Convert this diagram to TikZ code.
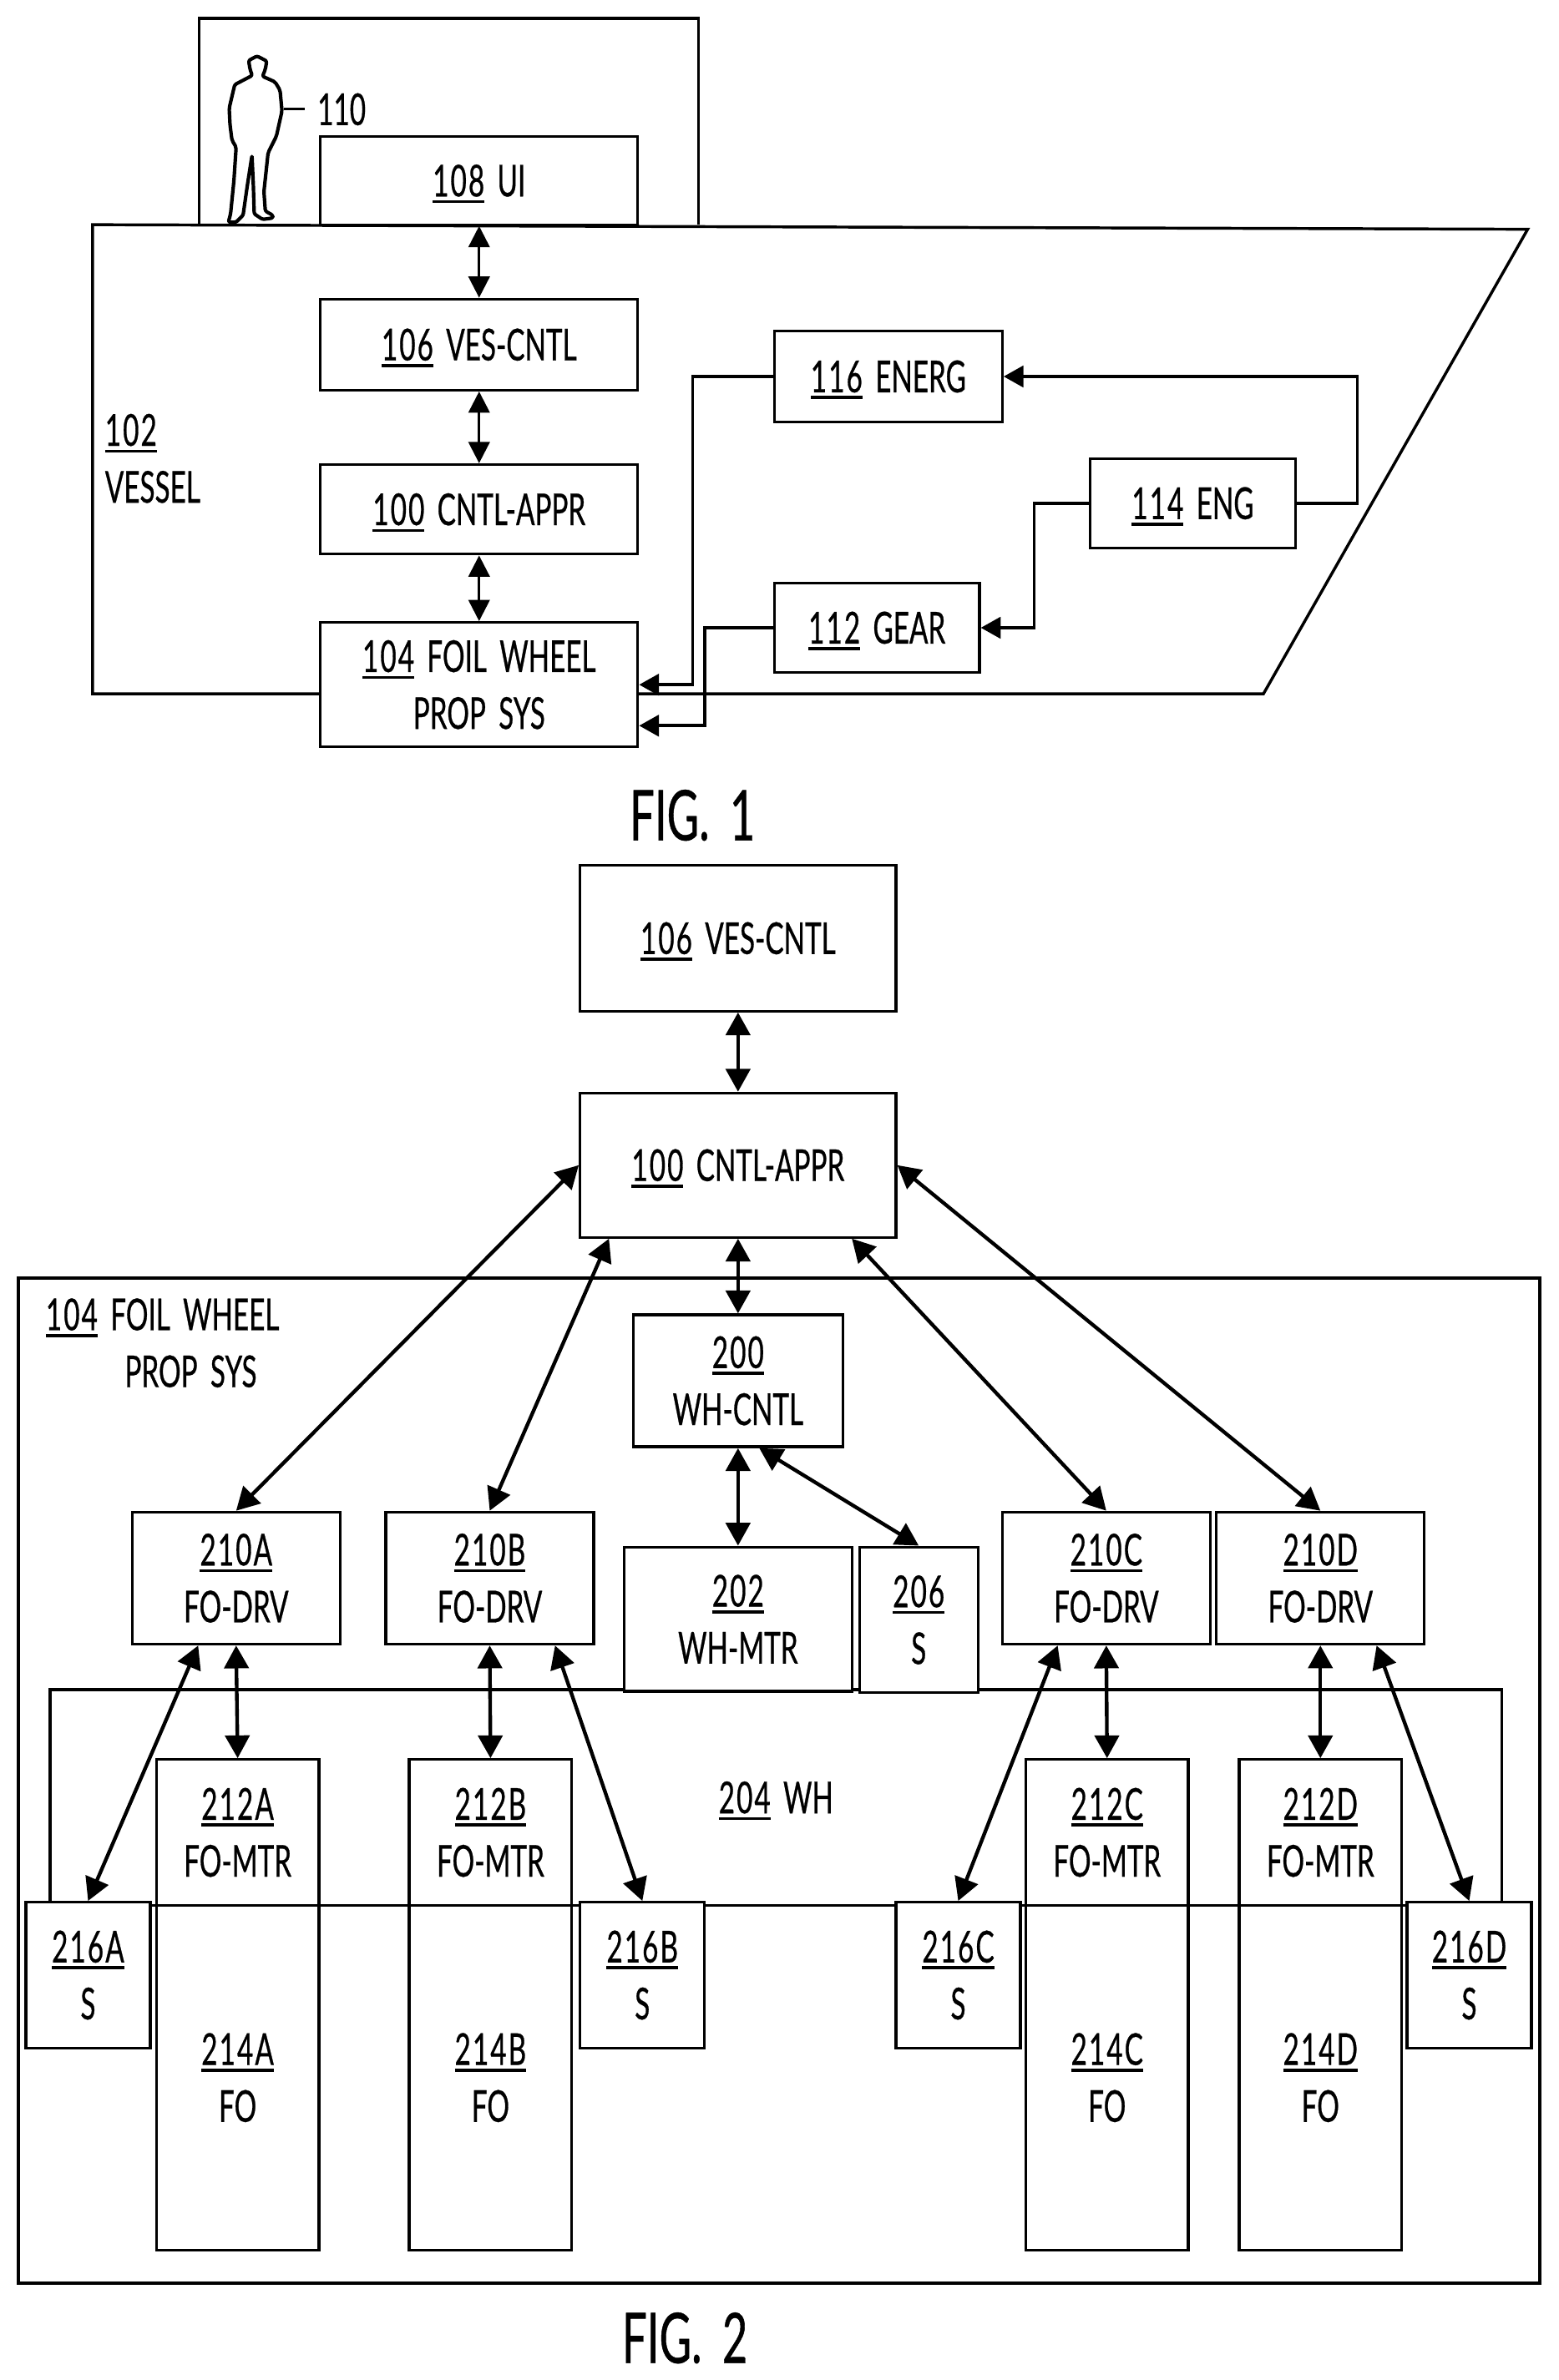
\documentclass[tikz,border=0pt]{standalone}
\usepackage{fontspec}
\usetikzlibrary{arrows.meta}
\newfontfamily\patfont[FakeStretch=0.63,WordSpace=1.8,FakeBold=0.5]{Lato}
\newfontfamily\numfont[FakeStretch=0.63,LetterSpace=4,FakeBold=0.5]{Lato}
\newcommand{\lbl}{\patfont\fontsize{29}{37.5}\selectfont}
\newcommand{\figfont}{\patfont\fontsize{46}{50}\selectfont}
\newcommand{\num}[1]{\setbox0\hbox{\numfont\fontsize{29}{37.5}\selectfont #1}\leavevmode\rlap{\smash{\raisebox{-4.5pt}{\rule{\wd0}{2pt}}}}\box0\relax}
\tikzset{
  unit/.style={draw,fill=white,line width=1.8pt,inner sep=0pt,align=center,font=\lbl},
  txt/.style={inner sep=0pt,align=left,font=\lbl},
  shell/.style={line width=1.9pt,line join=miter},
  thin2way/.style={line width=1.5pt,{Triangle[length=14pt,width=14pt]}-{Triangle[length=14pt,width=14pt]}},
  two2way/.style={line width=2.4pt,{Triangle[length=15pt,width=16pt]}-{Triangle[length=15pt,width=16pt]}},
  feed/.style={line width=2pt,-{Triangle[length=13pt,width=14pt]}},
}
\begin{document}
\begin{tikzpicture}[x=1pt,y=-1pt]
  \useasboundingbox (0,0) rectangle (1026.2,1567.7);
  % fig 1, vessel and cabin
  \draw[shell] (131,148) -- (131,12) -- (460,12) -- (460,148);
  \draw[shell] (61,148) -- (1006,151) -- (832,457) -- (61,457) -- cycle;
  \draw[line width=2.3pt,line join=round,rounded corners=1.2pt,x=0.183pt,y=-0.183pt,xshift=137.2pt,yshift=-27.4pt]
    (175,52) -- (145,68) -- (150,100) -- (158,122) -- (95,155) -- (82,210) -- (75,240) -- (78,300)
    -- (85,355) -- (100,380) -- (92,500) -- (80,620) -- (72,650) -- (100,650) -- (125,625) -- (140,520)
    -- (157,410) -- (162,520) -- (165,620) -- (195,640) -- (232,635) -- (232,625) -- (205,610) -- (200,540)
    -- (215,400) -- (245,340) -- (265,250) -- (258,175) -- (240,145) -- (195,125) -- (205,100) -- (210,70) -- cycle;
  \coordinate (person) at (187,72);
  \node[txt,inner sep=8pt] (oper) at (225,72) {110};
  \draw[line width=1.6pt] (person) -- (oper.west);
  \node[txt,anchor=west] (vessel) at (69,302) {\num{102}\\VESSEL};
  \node[unit,minimum width=209,minimum height=58] (ui) at (315.5,119) {\num{108} UI};
  \node[unit,minimum width=209,minimum height=60] (vesctl) at (315.5,227) {\num{106} VES-CNTL};
  \node[unit,minimum width=209,minimum height=59] (cntl) at (315.5,335.5) {\num{100} CNTL-APPR};
  \node[unit,minimum width=209,minimum height=82] (prop) at (315.5,451) {\num{104} FOIL WHEEL\\PROP SYS};
  \node[unit,minimum width=150,minimum height=60] (ener) at (585,248) {\num{116} ENERG};
  \node[unit,minimum width=135,minimum height=59] (eng) at (785.5,331.5) {\num{114} ENG};
  \node[unit,minimum width=135,minimum height=59] (gear) at (577.5,413.5) {\num{112} GEAR};
  \draw[thin2way] (ui) -- (vesctl);
  \draw[thin2way] (vesctl) -- (cntl);
  \draw[thin2way] (cntl) -- (prop);
  \draw[feed] (ener.west) -- ++(-53,0) |- (prop.east);
  \draw[feed] (gear.west) -- ++(-45,0) |- ([yshift=-27pt]prop.east);
  \draw[feed] (eng.west) -- ++(-36,0) |- (gear.east);
  \draw[feed] (eng.east) -- ++(40,0) |- (ener.east);
  \node[inner sep=0pt,font=\figfont] (figa) at (456,537) {FIG. 1};
  % fig 2
  \node[draw,line width=2.2pt,minimum width=1002,minimum height=662] (sys) at (513,1173) {};
  \node[txt,anchor=north west] (syslbl) at (30,855) {\num{104} FOIL WHEEL\\\hspace*{52pt}PROP SYS};
  \node[unit,minimum width=208,minimum height=96] (vesb) at (486,618) {\num{106} VES-CNTL};
  \node[unit,minimum width=208,minimum height=95] (cntb) at (486,767.5) {\num{100} CNTL-APPR};
  \node[unit,minimum width=956,minimum height=142] (wh) at (511,1184) {\num{204} WH};
  \node[unit,minimum width=138,minimum height=87] (whctl) at (486,909.5) {\num{200}\\WH-CNTL};
  \node[unit,minimum width=150,minimum height=95] (whmtr) at (486,1066.5) {\num{202}\\WH-MTR};
  \node[unit,minimum width=78,minimum height=96] (whsen) at (605,1067) {\num{206}\\S};
  \foreach \c/\xd/\xm/\xs in {A/155.5/156.5/58, B/322.5/323/423, C/728.5/729/631, D/869.5/869.5/967.5} {
    \node[unit,minimum width=137,minimum height=87] (drv\c) at (\xd,1039.5) {\num{210\c}\\FO-DRV};
    \node[unit,minimum width=107,minimum height=96] (mtr\c) at (\xm,1207) {\num{212\c}\\FO-MTR};
    \node[unit,minimum width=107,minimum height=227] (foil\c) at (\xm,1368.5) {\num{214\c}\\FO};
    \node[unit,minimum width=82,minimum height=96] (sen\c) at (\xs,1301) {\num{216\c}\\S};
  }
  \draw[two2way] (vesb) -- (cntb);
  \draw[two2way] (cntb) -- (whctl);
  \draw[two2way] (whctl) -- (whmtr);
  \draw[two2way] ([xshift=14pt]whctl.south) -- (whsen.north);
  \draw[two2way] (cntb.west) -- (drvA.north);
  \draw[two2way] ([xshift=-85pt]cntb.south) -- (drvB.north);
  \draw[two2way] ([xshift=75pt]cntb.south) -- (drvC.north);
  \draw[two2way] (cntb.east) -- (drvD.north);
  \foreach \c/\dx in {A/-25, B/43, C/-32, D/37} {
    \draw[two2way] (drv\c.south) -- (mtr\c.north);
    \draw[two2way] ([xshift=\dx pt]drv\c.south) -- (sen\c.north);
  }
  \node[inner sep=0pt,font=\figfont] (figb) at (451,1540) {FIG. 2};
\end{tikzpicture}
\end{document}
